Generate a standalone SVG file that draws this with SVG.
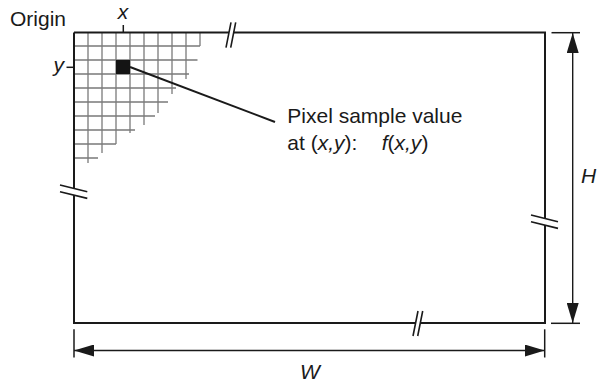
<svg xmlns="http://www.w3.org/2000/svg" width="600" height="382" viewBox="0 0 600 382">
<defs>
<style>
.t{font-family:"Liberation Sans",Arial,sans-serif;font-size:21px;fill:#1a1a1a}
.i{font-style:italic}
.edge{stroke:#1a1a1a;stroke-width:2;fill:none}
.brk{stroke:#1a1a1a;stroke-width:1.6;fill:none}
.grid{stroke:#7a7a7a;stroke-width:1.3;fill:none}
.dim{stroke:#1a1a1a;stroke-width:1.4;fill:none}
.ext{stroke:#1a1a1a;stroke-width:1.5;fill:none}
.lead{stroke:#1a1a1a;stroke-width:2;fill:none}
</style>
<marker id="ah" viewBox="0 0 20 12" refX="20" refY="6" markerWidth="20" markerHeight="12" markerUnits="userSpaceOnUse" orient="auto-start-reverse">
<path d="M0,0 L20,6 L0,12 Z" fill="#1a1a1a"/>
</marker>
</defs>
<g id="pixel-grid">
<path class="grid" d="M88,32 V163 M102,32 V153 M116,32 V144 M130,32 V133 M144,32 V125 M158,32 V113 M172,32 V94 M186,32 V79 M200,32 V46"/>
<path class="grid" d="M74,46 H200 M74,60 H197.5 M74,74 H189 M74,88 H176 M74,102 H168 M74,116 H155 M74,130 H135 M74,144 H116 M74,158 H98"/>
</g>
<g id="image-frame">
<path class="edge" d="M74,32.5 H229 M233.7,32.5 H545 V218.4 M545,225.1 V323 H420.4 M415.7,323 H74 V195.1 M74,188.4 V32.5"/>
<path class="brk" d="M231,22.3 L226,47.7 M235.7,22.3 L230.7,47.7"/>
<path class="brk" d="M60,185 L87.3,191.7 M60,191.7 L87.3,198.4"/>
<path class="brk" d="M531,215 L558,221.7 M531,221.7 L558,228.4"/>
<path class="brk" d="M418,311 L413,336 M422.7,311 L417.7,336"/>
</g>
<g id="pixel">
<rect x="116" y="60" width="14" height="14" fill="#141414"/>
</g>
<g id="origin-label">
<text class="t" x="10" y="25.7">Origin</text>
</g>
<g id="x-axis-label">
<line class="ext" x1="123.3" y1="25" x2="123.3" y2="32"/>
<text class="t i" x="123" y="19" text-anchor="middle">x</text>
</g>
<g id="y-axis-label">
<line class="ext" x1="66.5" y1="67.3" x2="74" y2="67.3"/>
<text class="t i" x="64" y="72" text-anchor="end">y</text>
</g>
<g id="sample-label">
<text class="t" x="287.3" y="122.7">Pixel sample value</text>
<text class="t" x="287.3" y="150">at (<tspan class="i">x,y</tspan>):<tspan x="381.7" class="i">f</tspan>(<tspan class="i">x,y</tspan>)</text>
</g>
<g id="height-label">
<text class="t i" x="581" y="183.3">H</text>
</g>
<g id="width-label">
<text class="t i" x="310" y="379" text-anchor="middle">W</text>
</g>
<g id="connectors">
<line class="lead" x1="130" y1="67" x2="275" y2="122"/>
<line class="ext" x1="551.5" y1="32.7" x2="580" y2="32.7"/>
<line class="ext" x1="551" y1="323.3" x2="580" y2="323.3"/>
<line class="dim" x1="572.7" y1="33" x2="572.7" y2="323" marker-start="url(#ah)" marker-end="url(#ah)"/>
<line class="ext" x1="74" y1="329.3" x2="74" y2="357.5"/>
<line class="ext" x1="544.7" y1="329.3" x2="544.7" y2="357.5"/>
<line class="dim" x1="74" y1="350.5" x2="544.7" y2="350.5" marker-start="url(#ah)" marker-end="url(#ah)"/>
</g>
</svg>
